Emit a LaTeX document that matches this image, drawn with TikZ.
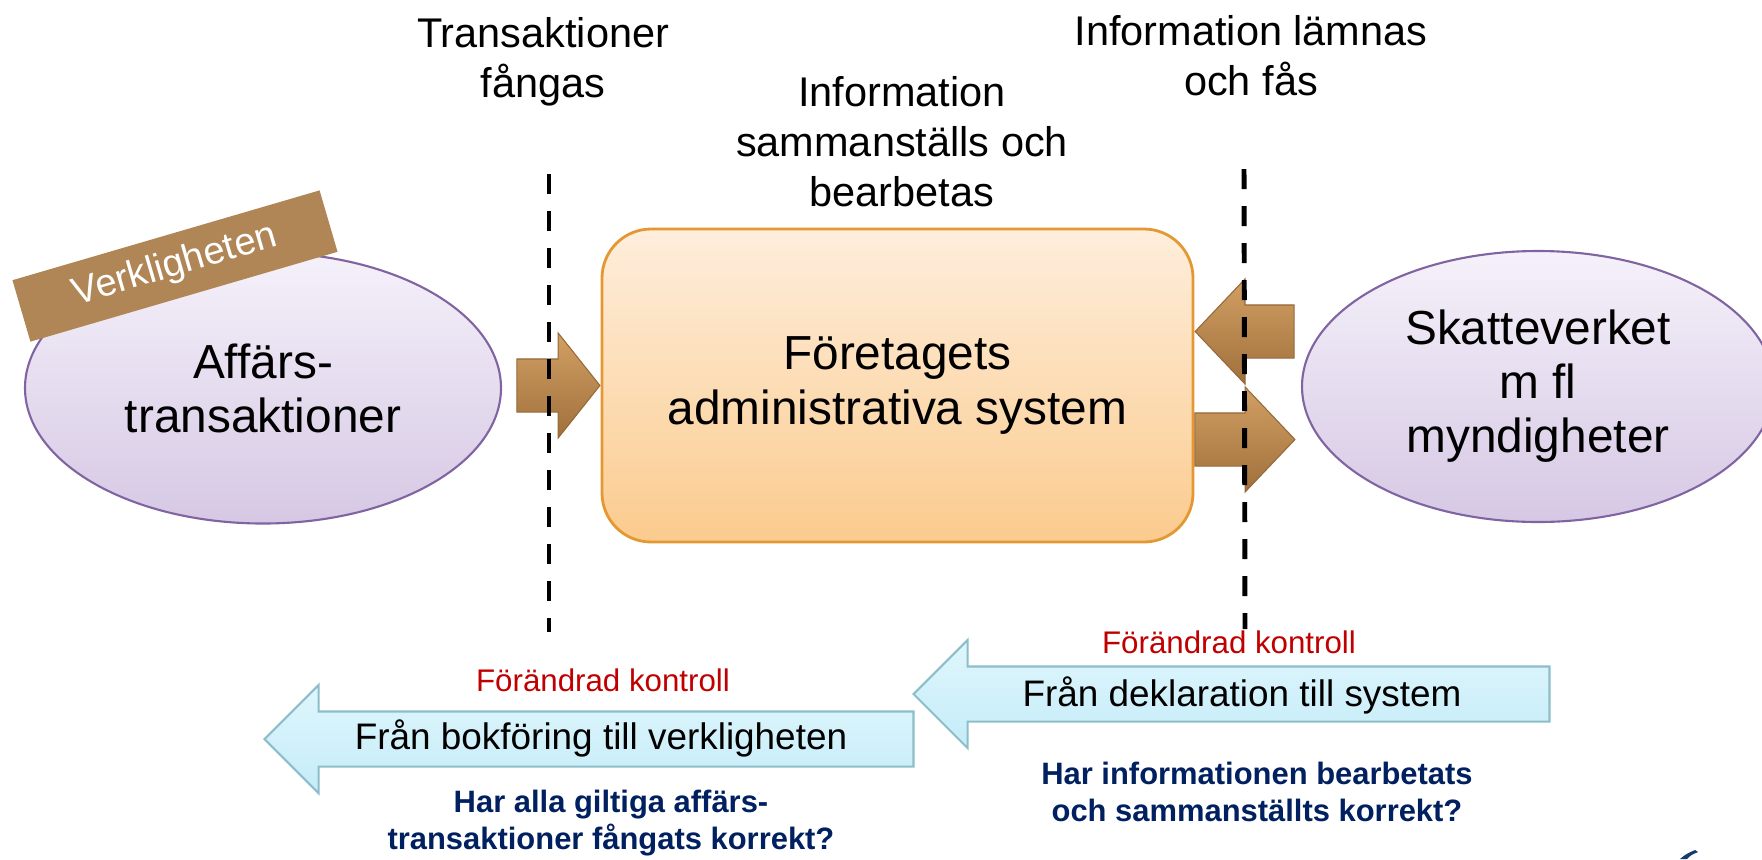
\documentclass[tikz,border=0pt]{standalone}
\usepackage{fontspec}
\setmainfont{Liberation Sans}
\usepackage{tikz}
\usetikzlibrary{shapes.geometric,shapes.arrows}

\definecolor{lavtop}{RGB}{245,241,250}
\definecolor{lavbot}{RGB}{214,200,228}
\definecolor{lavline}{RGB}{128,100,162}
\definecolor{peachtop}{RGB}{254,238,220}
\definecolor{peachbot}{RGB}{251,203,142}
\definecolor{orangeline}{RGB}{228,152,52}
\definecolor{brownlight}{RGB}{210,160,100}
\definecolor{browndark}{RGB}{160,112,60}
\definecolor{brownline}{RGB}{150,104,56}
\definecolor{tagbrown}{RGB}{176,134,86}
\definecolor{icetop}{RGB}{224,246,252}
\definecolor{icebot}{RGB}{196,236,249}
\definecolor{iceline}{RGB}{140,190,202}
\definecolor{redtext}{RGB}{192,0,0}
\definecolor{navytext}{RGB}{0,32,96}
\definecolor{logoblue}{RGB}{20,60,110}

\begin{document}
\begin{tikzpicture}[
        bubble/.style={ellipse,draw=lavline,line width=0.6pt,top color=lavtop,bottom color=lavbot,
            minimum width=4.76cm,minimum height=2.71cm,inner sep=0pt,align=center,
            font=\fontsize{13.6}{15.4}\selectfont},
        headtext/.style={align=center,font=\fontsize{11.8}{14.2}\selectfont},
        brownarrow/.style={single arrow,draw=brownline,line width=0.3pt,top color=brownlight,
            bottom color=browndark,minimum width=1.04cm,single arrow head extend=0.26cm,
            inner xsep=0pt,inner ysep=0.26cm},
        icearrow/.style={single arrow,draw=iceline,line width=0.6pt,top color=icetop,bottom color=icebot,
            minimum width=1.06cm,single arrow head extend=0.265cm,inner xsep=0pt,inner ysep=0.265cm,
            shape border rotate=180},
        arrowtext/.style={font=\fontsize{10.5}{12}\selectfont},
        redtag/.style={text=redtext,font=\fontsize{8.9}{10}\selectfont},
        question/.style={text=navytext,align=center,font=\bfseries\fontsize{8.8}{10.5}\selectfont},
        divider/.style={line width=1.4pt,dash pattern=on 2mm off 1.7mm}
    ]
    \clip (0,0) rectangle (17.62,8.59);

    % the three blocks
    \node[bubble] (affar) at (2.63,4.71) {Affärs-\\transaktioner};
    \node[fill=tagbrown,rotate=16.3,minimum width=3.2cm,minimum height=0.64cm,text=white,
        font=\fontsize{10.9}{12}\selectfont] (verk) at (1.75,5.93) {Verkligheten};
    \node[draw=orangeline,line width=0.8pt,rounded corners=0.49cm,top color=peachtop,bottom color=peachbot,
        minimum width=5.91cm,minimum height=3.13cm,align=center,
        font=\fontsize{13.6}{15.4}\selectfont] (sys) at (8.975,4.735) {Företagets\\administrativa system};
    \node[bubble,minimum width=4.72cm] (skv) at (15.38,4.725) {Skatteverket\\m fl\\myndigheter};

    % flows in and out
    \node[brownarrow,minimum height=0.83cm,single arrow tip angle=103,anchor=tip] (inarr) at (sys.west) {};
    \node[brownarrow,minimum height=0.99cm,single arrow tip angle=93,shape border rotate=180,anchor=tip]
        (backarr) at ([yshift=0.54cm]sys.east) {};
    \node[brownarrow,minimum height=1.0cm,single arrow tip angle=93,anchor=tail]
        (outarr) at ([yshift=-0.54cm]sys.east) {};

    \draw[divider] (5.49,6.85) -- (5.49,2.27);
    \draw[divider] (12.44,6.90) -- (12.45,2.30);

    \node[headtext] (capt) at (5.43,7.97) {Transaktioner\\fångas};
    \node[headtext] (proc) at (9.02,7.17) {Information\\sammanställs och\\bearbetas};
    \node[headtext] (exch) at (12.51,8.03) {Information lämnas\\och fås};

    % control arrows
    \node[icearrow,minimum height=6.36cm,anchor=tip] (higharr) at (9.12,1.65) {};
    \node[icearrow,minimum height=6.49cm,anchor=tip] (lowarr) at (2.63,1.20) {};
    \node[arrowtext] (hightxt) at (12.42,1.64) {Från deklaration till system};
    \node[arrowtext] (lowtxt) at (6.01,1.21) {Från bokföring till verkligheten};
    \node[redtag] (highred) at (12.29,2.17) {Förändrad kontroll};
    \node[redtag] (lowred) at (6.03,1.79) {Förändrad kontroll};
    \node[question] (highq) at (12.57,0.67) {Har informationen bearbetats\\och sammanställts korrekt?};
    \node[question] (lowq) at (6.11,0.36) {Har alla giltiga affärs-\\transaktioner fångats korrekt?};

    \fill[logoblue] (16.80,0) .. controls (16.86,0.05) .. (16.95,0.09) -- (16.98,0.07)
        .. controls (16.91,0.04) .. (16.87,0) -- cycle;
\end{tikzpicture}
\end{document}
